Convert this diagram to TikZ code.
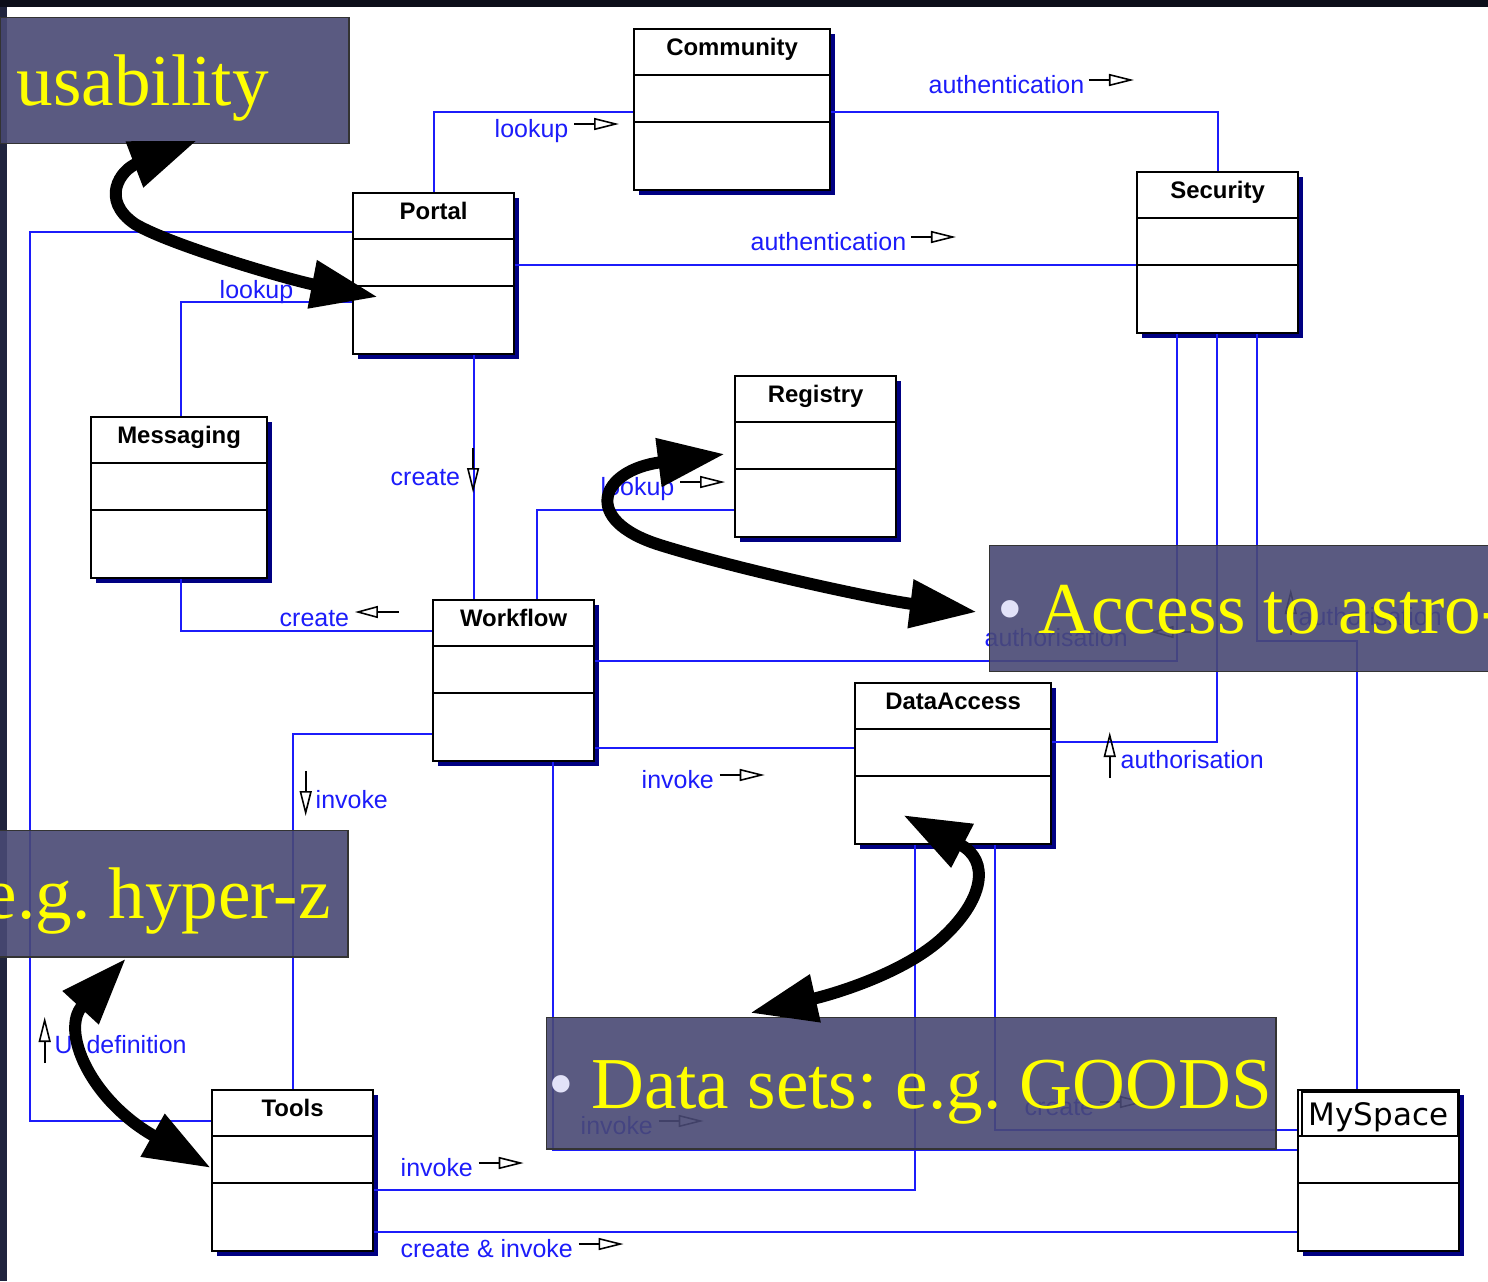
\documentclass[tikz,border=0pt]{standalone}
\usepackage{fontspec}
\setmainfont{Liberation Serif}
\newfontfamily\umlfont{Liberation Sans}
\newfontfamily\msfont{DejaVu Sans}
\usepackage{xcolor}
\usepackage{tikz}
\usetikzlibrary{arrows.meta, calc, shadows}
\definecolor{slideblack}{RGB}{12,14,26}
\definecolor{slidenavy}{RGB}{32,36,62}
\definecolor{linkblue}{RGB}{28,28,250}
\definecolor{shadowblue}{RGB}{0,0,130}
\definecolor{panelgrey}{RGB}{73,73,116}
\definecolor{hiyellow}{RGB}{255,255,0}
\definecolor{bulletlav}{RGB}{226,226,248}
\frenchspacing

\tikzset{dirmark/.style={black, line width=0.45pt}}
% little direction arrows next to the association names
\newcommand{\rarr}{\tikz[baseline=0pt]\draw[dirmark, -{Triangle[open,length=0.25cm,width=0.12cm]}] (0,0.13cm) -- (0.45cm,0.13cm);}
\newcommand{\larr}{\tikz[baseline=0pt]\draw[dirmark, {Triangle[open,length=0.23cm,width=0.12cm]}-] (0,0.14cm) -- (0.44cm,0.14cm);}
\newcommand{\darr}{\tikz[baseline=0pt]\draw[dirmark, -{Triangle[open,length=0.25cm,width=0.12cm]}] (0,0.37cm) -- (0,-0.08cm);}
\newcommand{\uarr}{\tikz[baseline=0pt]\draw[dirmark, -{Triangle[open,length=0.25cm,width=0.12cm]}] (0,-0.10cm) -- (0,0.36cm);}

\begin{document}
\begin{tikzpicture}[x=0.01cm, y=-0.01cm,
    umlclass/.style={draw, fill=white, line width=0.6pt, anchor=north west,
                     minimum height=1.61cm, inner sep=0pt,
                     drop shadow={shadow xshift=0.05cm, shadow yshift=-0.05cm,
                                  fill=shadowblue, opacity=1}},
    classtitle/.style={anchor=base, yshift=-0.27cm,
                       font=\umlfont\bfseries\fontsize{6.8pt}{8pt}\selectfont},
    divider/.style={line width=0.6pt},
    assoc/.style={linkblue, line width=0.6pt},
    linklabel/.style={anchor=base west, inner sep=0pt, text=linkblue,
                      font=\umlfont\fontsize{7.1pt}{8pt}\selectfont},
    panel/.style={draw=black!80, line width=0.4pt, fill=panelgrey,
                  fill opacity=0.9, text opacity=1, text=hiyellow,
                  anchor=north west, inner ysep=0pt,
                  text height=0.5cm, text depth=0cm,
                  font=\fontsize{20.8pt}{24pt}\selectfont},
    bigarrow/.style={line width=3.4pt,
                     {Triangle[length=0.67cm,width=0.46cm]}-{Triangle[length=0.67cm,width=0.46cm]}}]

  \useasboundingbox (0,0) rectangle (1488,1281);
  \clip (0,0) rectangle (1488,1281);
  \fill[slideblack] (0,0) rectangle (1488,7);
  \fill[slidenavy] (0,7) rectangle (7,1281);
  \fill[white] (7,7) rectangle (1488,1281);

  % classes
  \node[umlclass, minimum width=1.96cm, label={[classtitle]north:Community}] (community) at (633,28) {};
  \node[umlclass, minimum width=1.61cm, label={[classtitle]north:Portal}] (portal) at (352,192) {};
  \node[umlclass, minimum width=1.61cm, label={[classtitle]north:Security}] (security) at (1136,171) {};
  \node[umlclass, minimum width=1.61cm, label={[classtitle]north:Registry}] (registry) at (734,375) {};
  \node[umlclass, minimum width=1.76cm, label={[classtitle]north:Messaging}] (messaging) at (90,416) {};
  \node[umlclass, minimum width=1.61cm, label={[classtitle]north:Workflow}] (workflow) at (432,599) {};
  \node[umlclass, minimum width=1.96cm, label={[classtitle]north:DataAccess}] (dataaccess) at (854,682) {};
  \node[umlclass, minimum width=1.61cm, label={[classtitle]north:Tools}] (tools) at (211,1089) {};
  \node[umlclass, minimum width=1.61cm, label={[classtitle, yshift=-0.09cm,
        font=\msfont\fontsize{8.8pt}{10pt}\selectfont]north:MySpace}] (myspace) at (1297,1089) {};
  \draw[line width=0.5pt] ($(myspace.north west)+(5,3)$) rectangle ($(myspace.north east)+(-2,47)$);

  \foreach \c in {community, portal, security, registry, messaging, workflow, dataaccess, tools, myspace} {
    \draw[divider] ($(\c.north west)+(0,47)$) -- ($(\c.north east)+(0,47)$);
    \draw[divider] ($(\c.north west)+(0,94)$) -- ($(\c.north east)+(0,94)$);
  }

  % associations
  \draw[assoc] ($(portal.north west)+(82,0)$) |- ($(community.north west)+(0,84)$);
  \draw[assoc] ($(community.north east)+(0,84)$) -| ($(security.north west)+(82,0)$);
  \draw[assoc] ($(portal.north east)+(0,73)$) -- ($(security.north west)+(0,94)$);
  \draw[assoc] ($(portal.north west)+(0,40)$) -| ($(tools.north west)+(-181,32)$) -- ($(tools.north west)+(0,32)$);
  \draw[assoc] ($(messaging.north west)+(91,0)$) |- ($(portal.north west)+(0,110)$);
  \draw[assoc] ($(portal.south west)+(122,0)$) -- ($(workflow.north west)+(42,0)$);
  \draw[assoc] ($(messaging.south west)+(91,0)$) |- ($(workflow.north west)+(0,32)$);
  \draw[assoc] ($(workflow.north west)+(105,0)$) |- ($(registry.north west)+(0,135)$);
  \draw[assoc] ($(workflow.north east)+(0,62)$) -| ($(security.south west)+(41,0)$);
  \draw[assoc] ($(workflow.north east)+(0,149)$) -- ($(dataaccess.north west)+(0,66)$);
  \draw[assoc] ($(dataaccess.north east)+(0,60)$) -| ($(security.south west)+(81,0)$);
  \draw[assoc] ($(security.south west)+(121,0)$) |- ($(myspace.north west)+(60,-448)$) -- ($(myspace.north west)+(60,0)$);
  \draw[assoc] ($(workflow.north west)+(0,135)$) -| ($(tools.north west)+(82,0)$);
  \draw[assoc] ($(workflow.south west)+(121,0)$) |- ($(myspace.north west)+(0,61)$);
  \draw[assoc] ($(dataaccess.south west)+(61,0)$) |- ($(tools.north east)+(0,101)$);
  \draw[assoc] ($(dataaccess.south west)+(141,0)$) |- ($(myspace.north west)+(0,41)$);
  \draw[assoc] ($(tools.north east)+(0,143)$) -- ($(myspace.north west)+(0,143)$);

  % association names
  \node[linklabel] (lookupcom) at (494,137) {lookup\hspace{0.05cm}\rarr};
  \node[linklabel] (authcom) at (928,93) {authentication\hspace{0.04cm}\rarr};
  \node[linklabel] (authport) at (750,250) {authentication\hspace{0.04cm}\rarr};
  \node[linklabel] (lookupmsg) at (219,298) {lookup};
  \node[linklabel] (createwf) at (390,485) {create\hspace{0.07cm}\darr};
  \node[linklabel] (createmsg) at (279,626) {create\hspace{0.05cm}\larr};
  \node[linklabel] (lookupreg) at (600,495) {lookup\hspace{0.05cm}\rarr};
  \node[linklabel] (authwf) at (984,646) {authorisation\hspace{0.22cm}\larr};
  \node[linklabel] (invokeda) at (641,788) {invoke\hspace{0.05cm}\rarr};
  \node[linklabel] (authda) at (1103,768) {\uarr\hspace{0.05cm}authorisation};
  \node[linklabel] (authms) at (1284,625) {\uarr\hspace{0.02cm}authorisation};
  \node[linklabel] (invoketl) at (299,808) {\darr\hspace{0.04cm}invoke};
  \node[linklabel] (uidef) at (38,1053) {\uarr\hspace{0.04cm}UI definition};
  \node[linklabel] (invokems) at (580,1134) {invoke\hspace{0.05cm}\rarr};
  \node[linklabel] (invokeda2) at (400,1176) {invoke\hspace{0.05cm}\rarr};
  \node[linklabel] (createms) at (1024,1115) {create\hspace{0.05cm}\rarr};
  \node[linklabel] (createinv) at (400,1257) {create \& invoke\hspace{0.05cm}\rarr};

  % slide overlays
  \node[panel, minimum height=1.26cm, inner xsep=0.16cm] (usab) at (0,17)
        {\makebox[3.16cm][l]{usability}};
  \node[panel, minimum height=1.26cm, inner xsep=0.12cm] (hyperz) at (-28,830)
        {\makebox[3.51cm][l]{e.g. hyper-z}};
  \node[panel, minimum height=1.26cm, inner xsep=0.08cm] (astro) at (989,545)
        {\makebox[6.84cm][l]{\textcolor{bulletlav}{•}\hspace{0.15cm}Access to astro-}};
  \node[panel, minimum height=1.31cm, inner xsep=0.02cm] (datasets) at (546,1017)
        {\makebox[7.25cm][l]{\textcolor{bulletlav}{•}\hspace{0.17cm}Data sets: e.g. GOODS}};

  % pointers
  \draw[bigarrow] ($(usab.south west)+(197,-4)$) .. controls (120,170) and (100,200) .. (135,224)
        .. controls (170,245) and (290,280) .. ($(portal.north west)+(26,105)$);
  \draw[bigarrow] ($(registry.north west)+(-9,79)$) .. controls (600,470) and (580,520) .. (660,545)
        .. controls (740,570) and (880,600) .. ($(astro.north west)+(-12,67)$);
  \draw[bigarrow] ($(dataaccess.north west)+(49,133)$) .. controls (990,860) and (985,900) .. (940,940)
        .. controls (900,975) and (830,995) .. ($(datasets.north west)+(204,-4)$);
  \draw[bigarrow] ($(hyperz.south west)+(154,1)$) .. controls (60,1030) and (90,1100) .. ($(tools.north west)+(0,79)$);
\end{tikzpicture}
\end{document}
